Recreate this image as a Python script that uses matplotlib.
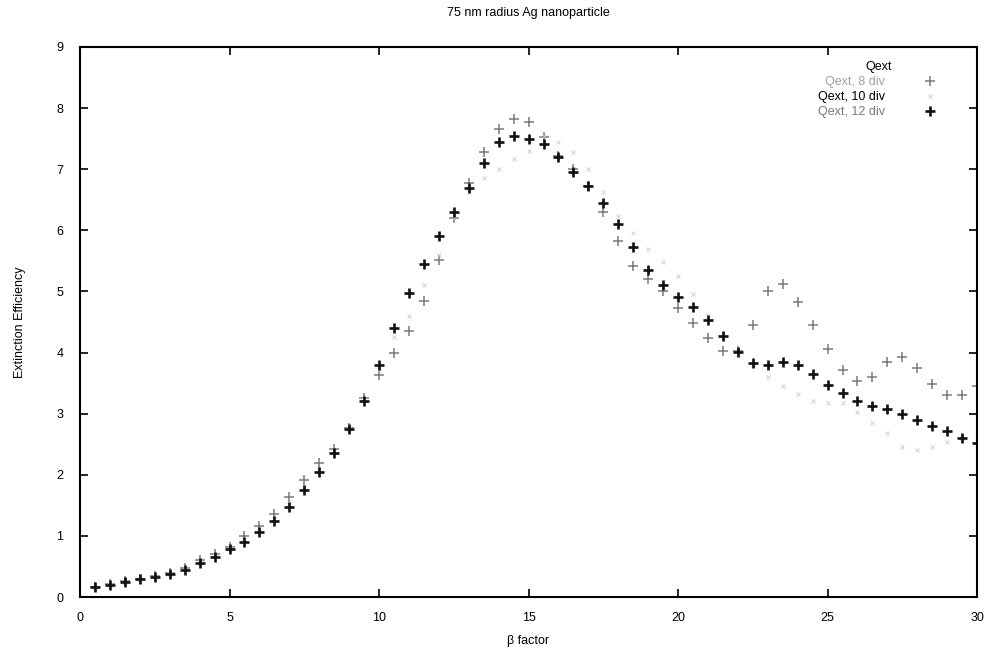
import numpy as np
import matplotlib
matplotlib.use('Agg')
import matplotlib.pyplot as plt

# beta factor sampling
beta = np.arange(1, 61) * 0.5

qext_8div = [0.17, 0.21, 0.26, 0.30, 0.34, 0.39, 0.48, 0.60, 0.70, 0.82,
             1.00, 1.16, 1.36, 1.63, 1.92, 2.20, 2.43, 2.76, 3.26, 3.64,
             4.00, 4.36, 4.85, 5.52, 6.20, 6.77, 7.28, 7.65, 7.82, 7.78,
             7.52, 7.22, 7.00, 6.72, 6.30, 5.82, 5.42, 5.20, 5.00, 4.73,
             4.49, 4.24, 4.03, 4.02, 4.45, 5.00, 5.12, 4.83, 4.45, 4.06,
             3.72, 3.54, 3.60, 3.85, 3.93, 3.75, 3.49, 3.31, 3.31, 3.45]

qext_10div = [0.17, 0.20, 0.25, 0.30, 0.33, 0.38, 0.46, 0.56, 0.67, 0.79,
              0.93, 1.08, 1.28, 1.52, 1.80, 2.10, 2.38, 2.75, 3.22, 3.72,
              4.25, 4.60, 5.10, 5.60, 6.20, 6.62, 6.85, 7.00, 7.17, 7.30,
              7.55, 7.45, 7.28, 7.00, 6.62, 6.23, 5.95, 5.70, 5.48, 5.25,
              4.95, 4.62, 4.25, 3.98, 3.80, 3.60, 3.45, 3.32, 3.21, 3.17,
              3.17, 3.03, 2.85, 2.68, 2.46, 2.40, 2.46, 2.54, 2.60, 2.55]

qext_12div = [0.17, 0.20, 0.24, 0.29, 0.32, 0.37, 0.45, 0.55, 0.65, 0.78,
              0.90, 1.06, 1.25, 1.48, 1.75, 2.05, 2.35, 2.75, 3.20, 3.80,
              4.40, 4.98, 5.45, 5.90, 6.30, 6.70, 7.10, 7.45, 7.55, 7.50,
              7.42, 7.20, 6.95, 6.72, 6.45, 6.10, 5.72, 5.35, 5.10, 4.91,
              4.75, 4.53, 4.27, 4.01, 3.83, 3.80, 3.85, 3.80, 3.65, 3.47,
              3.34, 3.21, 3.13, 3.08, 2.99, 2.89, 2.80, 2.72, 2.60, 2.52]

plt.rcParams['font.family'] = ['Liberation Sans', 'DejaVu Sans']
plt.rcParams['font.size'] = 9

fig = plt.figure(figsize=(9.94, 6.57), dpi=100)
ax = fig.add_axes([0.0805, 0.0913, 0.9025, 0.8372])

ax.plot(beta, qext_8div, linestyle='none', marker='+', markersize=7,
        markeredgewidth=1.1, color='#7a7a7a', label='Qext, 8 div')
ax.plot(beta, qext_10div, linestyle='none', marker='x', markersize=3.5,
        markeredgewidth=0.6, color='#c8c8c8', label='Qext, 10 div')
ax.plot(beta, qext_12div, linestyle='none', marker='+', markersize=7.5,
        markeredgewidth=1.9, color='#111111', label='Qext, 12 div')

ax.set_xlim(0, 30)
ax.set_ylim(0, 9)
ax.set_xticks(np.arange(0, 31, 5))
ax.set_yticks(np.arange(0, 10, 1))
ax.tick_params(direction='in', top=True, right=True, length=6, width=1.2,
               labelsize=9)
ax.tick_params(axis='x', pad=11)
ax.tick_params(axis='y', pad=12)
for s in ax.spines.values():
    s.set_linewidth(1.5)

ax.set_title('75 nm radius Ag nanoparticle', fontsize=9, pad=22)
ax.set_xlabel('\u03b2 factor', fontsize=9, labelpad=8)
ax.set_ylabel('Extinction Efficiency', fontsize=9, labelpad=22)

leg = ax.legend(loc='upper right', title='Qext', frameon=False,
                markerfirst=False, fontsize=9, title_fontsize=9,
                handletextpad=2.8, labelspacing=0.25, handlelength=1.5,
                bbox_to_anchor=(0.97, 0.995))
leg.get_texts()[0].set_color('#a0a0a0')
leg.get_texts()[2].set_color('#7a7a7a')

fig.savefig('out.png', dpi=100)
